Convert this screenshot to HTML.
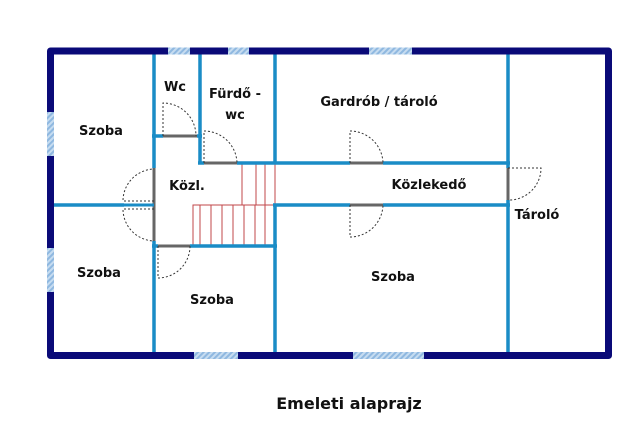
<!DOCTYPE html>
<html><head><meta charset="utf-8"><style>
html,body{margin:0;padding:0;background:#fff;width:640px;height:439px;overflow:hidden}
svg text{font-family:"DejaVu Sans","Liberation Sans",sans-serif;font-weight:bold;fill:#111}
</style></head><body>
<svg width="640" height="439" viewBox="0 0 640 439" xmlns="http://www.w3.org/2000/svg">
<defs>
<pattern id="h" width="4" height="4" patternUnits="userSpaceOnUse" patternTransform="rotate(45)">
<rect width="4" height="4" fill="#c6dcf0"/><rect width="2" height="4" fill="#8fb8e0"/></pattern>
</defs>
<!-- stairs -->
<g stroke="#c0474a" stroke-width="1" fill="none">
<polyline points="242,205 242,163 275,163"/>
<polyline points="193,246 193,205 275,205"/>
<line x1="256" y1="163" x2="256" y2="205"/><line x1="265" y1="163" x2="265" y2="205"/>
<line x1="200" y1="205" x2="200" y2="246"/><line x1="211" y1="205" x2="211" y2="246"/>
<line x1="222" y1="205" x2="222" y2="246"/><line x1="233" y1="205" x2="233" y2="246"/>
<line x1="244" y1="205" x2="244" y2="246"/><line x1="255" y1="205" x2="255" y2="246"/>
<line x1="265" y1="205" x2="265" y2="246"/><line x1="275" y1="163" x2="275" y2="205"/>
</g>
<!-- inner walls -->
<g stroke="#1a8cc6" stroke-width="3.5" fill="none">
<line x1="154" y1="52" x2="154" y2="168"/><line x1="154" y1="241" x2="154" y2="354"/>
<line x1="200" y1="52" x2="200" y2="164"/>
<line x1="275" y1="52" x2="275" y2="164"/><line x1="275" y1="204" x2="275" y2="354"/>
<line x1="508" y1="52" x2="508" y2="168"/><line x1="508" y1="200" x2="508" y2="354"/>
<line x1="198" y1="163" x2="204" y2="163"/><line x1="237" y1="163" x2="350" y2="163"/><line x1="383" y1="163" x2="510" y2="163"/>
<line x1="52" y1="205" x2="124" y2="205"/>
<line x1="273" y1="205" x2="350" y2="205"/><line x1="383" y1="205" x2="510" y2="205"/>
<line x1="152" y1="136" x2="163" y2="136"/><line x1="197" y1="136" x2="202" y2="136"/>
<line x1="190" y1="246" x2="277" y2="246"/><line x1="152" y1="246" x2="158" y2="246"/>
</g>
<!-- door leaves -->
<g stroke="#666" stroke-width="3" fill="none">
<line x1="163" y1="136" x2="197" y2="136"/>
<line x1="204" y1="163" x2="237" y2="163"/>
<line x1="350" y1="163" x2="383" y2="163"/>
<line x1="350" y1="205" x2="383" y2="205"/>
<line x1="154" y1="168" x2="154" y2="241"/>
<line x1="508" y1="168" x2="508" y2="200"/>
<line x1="158" y1="246" x2="190" y2="246"/>
<line x1="124" y1="205" x2="154" y2="205" stroke="#1a8cc6"/>
</g>
<!-- door swings -->
<g stroke="#333" stroke-width="1" stroke-dasharray="2,2" fill="none">
<path d="M163,136 V103 A33,33 0 0 1 196,136"/>
<path d="M204,163 V131 A33,33 0 0 1 237,163"/>
<path d="M350,163 V131 A33,33 0 0 1 383,163"/>
<path d="M350,205 V237 A33,33 0 0 0 383,205"/>
<path d="M154,201 H123 A32,32 0 0 1 154,169"/>
<path d="M154,209 H123 A32,32 0 0 0 154,241"/>
<path d="M508,168 H541 A32,32 0 0 1 508,200"/>
<path d="M158,246 V278 A32,32 0 0 0 190,246"/>
</g>
<!-- outer walls -->
<path d="M50.5,51 H608.5 V355.5 H50.5 Z" fill="none" stroke="#0a0a78" stroke-width="7" stroke-linejoin="round"/>
<!-- windows -->
<g fill="url(#h)">
<rect x="168" y="47.5" width="22" height="7"/><rect x="228" y="47.5" width="21" height="7"/>
<rect x="369" y="47.5" width="43" height="7"/>
<rect x="47" y="112" width="7" height="44"/><rect x="47" y="248" width="7" height="44"/>
<rect x="194" y="352" width="44" height="7"/><rect x="353" y="352" width="71" height="7"/>
</g>
<!-- labels -->
<g font-size="13" text-anchor="middle">
<text x="101" y="135">Szoba</text>
<text x="175" y="91">Wc</text>
<text x="235" y="98">Fürdő -</text>
<text x="235" y="119">wc</text>
<text x="379" y="106">Gardrób / tároló</text>
<text x="187" y="190">Közl.</text>
<text x="429" y="189">Közlekedő</text>
<text x="537" y="219">Tároló</text>
<text x="99" y="277">Szoba</text>
<text x="212" y="304">Szoba</text>
<text x="393" y="281">Szoba</text>
</g>
<text x="349" y="409" font-size="16" text-anchor="middle">Emeleti alaprajz</text>
</svg>
</body></html>
